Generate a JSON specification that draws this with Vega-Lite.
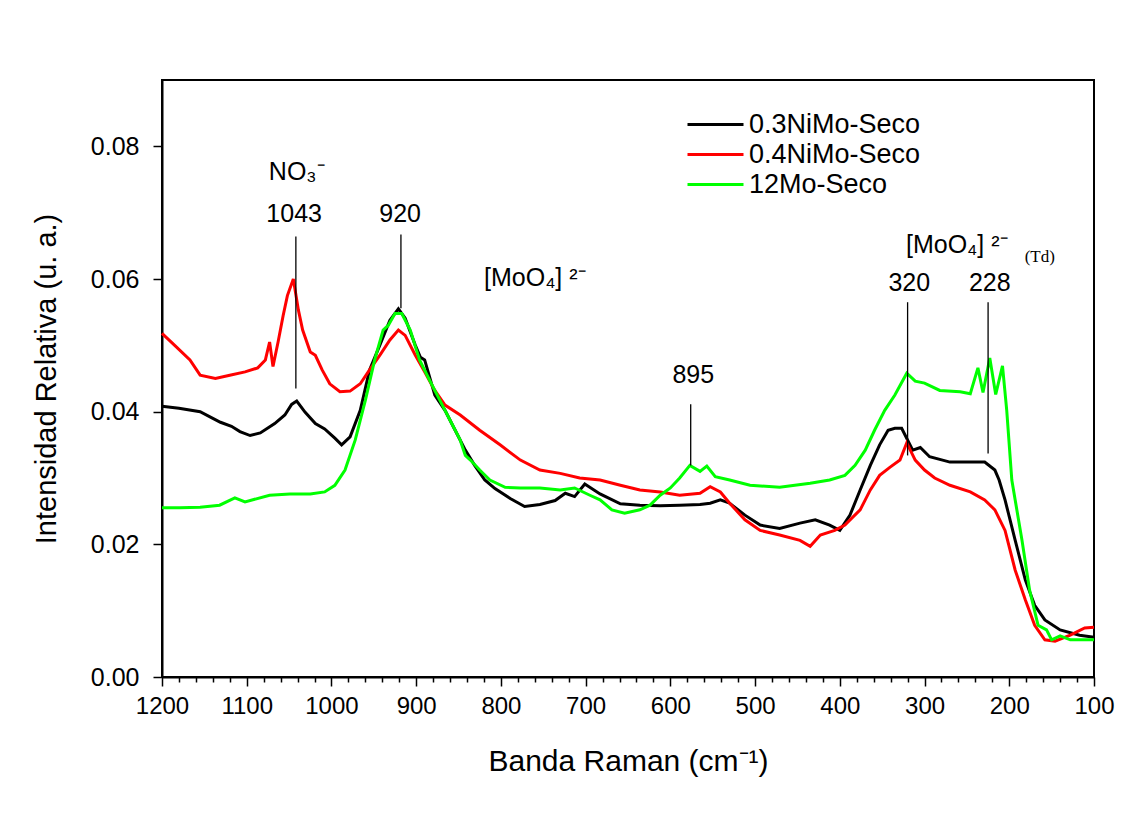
{
  "$schema": "https://vega.github.io/schema/vega-lite/v6.json",
  "width": 932,
  "height": 597,
  "autosize": "none",
  "padding": {"left": 162, "top": 80, "right": 42, "bottom": 137},
  "background": "white",
  "config": {
    "view": {"stroke": "black", "strokeWidth": 2},
    "font": "Liberation Sans"
  },
  "datasets": {
    "spectra": [
      {"sample": "0.3NiMo-Seco", "shift": 1200, "intensity": 0.0408},
      {"sample": "0.3NiMo-Seco", "shift": 1180, "intensity": 0.0405},
      {"sample": "0.3NiMo-Seco", "shift": 1155, "intensity": 0.0400},
      {"sample": "0.3NiMo-Seco", "shift": 1140, "intensity": 0.0390},
      {"sample": "0.3NiMo-Seco", "shift": 1131, "intensity": 0.0384},
      {"sample": "0.3NiMo-Seco", "shift": 1118, "intensity": 0.0378},
      {"sample": "0.3NiMo-Seco", "shift": 1108, "intensity": 0.0370},
      {"sample": "0.3NiMo-Seco", "shift": 1096, "intensity": 0.0364},
      {"sample": "0.3NiMo-Seco", "shift": 1084, "intensity": 0.0368},
      {"sample": "0.3NiMo-Seco", "shift": 1067, "intensity": 0.0382},
      {"sample": "0.3NiMo-Seco", "shift": 1055, "intensity": 0.0395},
      {"sample": "0.3NiMo-Seco", "shift": 1047, "intensity": 0.0411},
      {"sample": "0.3NiMo-Seco", "shift": 1041, "intensity": 0.0416},
      {"sample": "0.3NiMo-Seco", "shift": 1031, "intensity": 0.0399},
      {"sample": "0.3NiMo-Seco", "shift": 1019, "intensity": 0.0382},
      {"sample": "0.3NiMo-Seco", "shift": 1008, "intensity": 0.0374},
      {"sample": "0.3NiMo-Seco", "shift": 996, "intensity": 0.0360},
      {"sample": "0.3NiMo-Seco", "shift": 988, "intensity": 0.0350},
      {"sample": "0.3NiMo-Seco", "shift": 978, "intensity": 0.0362},
      {"sample": "0.3NiMo-Seco", "shift": 966, "intensity": 0.0402},
      {"sample": "0.3NiMo-Seco", "shift": 955, "intensity": 0.0463},
      {"sample": "0.3NiMo-Seco", "shift": 943, "intensity": 0.0500},
      {"sample": "0.3NiMo-Seco", "shift": 931, "intensity": 0.0538},
      {"sample": "0.3NiMo-Seco", "shift": 921, "intensity": 0.0555},
      {"sample": "0.3NiMo-Seco", "shift": 913, "intensity": 0.0541},
      {"sample": "0.3NiMo-Seco", "shift": 901, "intensity": 0.0500},
      {"sample": "0.3NiMo-Seco", "shift": 895, "intensity": 0.0482},
      {"sample": "0.3NiMo-Seco", "shift": 890, "intensity": 0.0478},
      {"sample": "0.3NiMo-Seco", "shift": 878, "intensity": 0.0425},
      {"sample": "0.3NiMo-Seco", "shift": 866, "intensity": 0.0402},
      {"sample": "0.3NiMo-Seco", "shift": 854, "intensity": 0.0372},
      {"sample": "0.3NiMo-Seco", "shift": 842, "intensity": 0.0342},
      {"sample": "0.3NiMo-Seco", "shift": 831, "intensity": 0.0319},
      {"sample": "0.3NiMo-Seco", "shift": 819, "intensity": 0.0297},
      {"sample": "0.3NiMo-Seco", "shift": 807, "intensity": 0.0284},
      {"sample": "0.3NiMo-Seco", "shift": 789, "intensity": 0.0269},
      {"sample": "0.3NiMo-Seco", "shift": 772, "intensity": 0.0257},
      {"sample": "0.3NiMo-Seco", "shift": 754, "intensity": 0.0260},
      {"sample": "0.3NiMo-Seco", "shift": 736, "intensity": 0.0266},
      {"sample": "0.3NiMo-Seco", "shift": 724, "intensity": 0.0277},
      {"sample": "0.3NiMo-Seco", "shift": 713, "intensity": 0.0272},
      {"sample": "0.3NiMo-Seco", "shift": 701, "intensity": 0.0291},
      {"sample": "0.3NiMo-Seco", "shift": 683, "intensity": 0.0276},
      {"sample": "0.3NiMo-Seco", "shift": 659, "intensity": 0.0261},
      {"sample": "0.3NiMo-Seco", "shift": 636, "intensity": 0.0259},
      {"sample": "0.3NiMo-Seco", "shift": 612, "intensity": 0.0258},
      {"sample": "0.3NiMo-Seco", "shift": 589, "intensity": 0.0259},
      {"sample": "0.3NiMo-Seco", "shift": 565, "intensity": 0.0260},
      {"sample": "0.3NiMo-Seco", "shift": 553, "intensity": 0.0262},
      {"sample": "0.3NiMo-Seco", "shift": 541, "intensity": 0.0267},
      {"sample": "0.3NiMo-Seco", "shift": 530, "intensity": 0.0262},
      {"sample": "0.3NiMo-Seco", "shift": 512, "intensity": 0.0244},
      {"sample": "0.3NiMo-Seco", "shift": 494, "intensity": 0.0229},
      {"sample": "0.3NiMo-Seco", "shift": 471, "intensity": 0.0224},
      {"sample": "0.3NiMo-Seco", "shift": 447, "intensity": 0.0232},
      {"sample": "0.3NiMo-Seco", "shift": 429, "intensity": 0.0237},
      {"sample": "0.3NiMo-Seco", "shift": 412, "intensity": 0.0229},
      {"sample": "0.3NiMo-Seco", "shift": 400, "intensity": 0.0221},
      {"sample": "0.3NiMo-Seco", "shift": 388, "intensity": 0.0244},
      {"sample": "0.3NiMo-Seco", "shift": 376, "intensity": 0.0282},
      {"sample": "0.3NiMo-Seco", "shift": 364, "intensity": 0.0319},
      {"sample": "0.3NiMo-Seco", "shift": 353, "intensity": 0.0350},
      {"sample": "0.3NiMo-Seco", "shift": 343, "intensity": 0.0372},
      {"sample": "0.3NiMo-Seco", "shift": 335, "intensity": 0.0375},
      {"sample": "0.3NiMo-Seco", "shift": 327, "intensity": 0.0375},
      {"sample": "0.3NiMo-Seco", "shift": 314, "intensity": 0.0342},
      {"sample": "0.3NiMo-Seco", "shift": 305, "intensity": 0.0346},
      {"sample": "0.3NiMo-Seco", "shift": 294, "intensity": 0.0332},
      {"sample": "0.3NiMo-Seco", "shift": 270, "intensity": 0.0324},
      {"sample": "0.3NiMo-Seco", "shift": 246, "intensity": 0.0324},
      {"sample": "0.3NiMo-Seco", "shift": 229, "intensity": 0.0324},
      {"sample": "0.3NiMo-Seco", "shift": 217, "intensity": 0.0312},
      {"sample": "0.3NiMo-Seco", "shift": 212, "intensity": 0.0297},
      {"sample": "0.3NiMo-Seco", "shift": 205, "intensity": 0.0267},
      {"sample": "0.3NiMo-Seco", "shift": 193, "intensity": 0.0206},
      {"sample": "0.3NiMo-Seco", "shift": 181, "intensity": 0.0146},
      {"sample": "0.3NiMo-Seco", "shift": 170, "intensity": 0.0108},
      {"sample": "0.3NiMo-Seco", "shift": 158, "intensity": 0.0086},
      {"sample": "0.3NiMo-Seco", "shift": 140, "intensity": 0.0071},
      {"sample": "0.3NiMo-Seco", "shift": 117, "intensity": 0.0063},
      {"sample": "0.3NiMo-Seco", "shift": 100, "intensity": 0.0060},

      {"sample": "0.4NiMo-Seco", "shift": 1200, "intensity": 0.0518},
      {"sample": "0.4NiMo-Seco", "shift": 1185, "intensity": 0.0500},
      {"sample": "0.4NiMo-Seco", "shift": 1167, "intensity": 0.0478},
      {"sample": "0.4NiMo-Seco", "shift": 1155, "intensity": 0.0455},
      {"sample": "0.4NiMo-Seco", "shift": 1137, "intensity": 0.0450},
      {"sample": "0.4NiMo-Seco", "shift": 1120, "intensity": 0.0455},
      {"sample": "0.4NiMo-Seco", "shift": 1102, "intensity": 0.0460},
      {"sample": "0.4NiMo-Seco", "shift": 1087, "intensity": 0.0466},
      {"sample": "0.4NiMo-Seco", "shift": 1078, "intensity": 0.0478},
      {"sample": "0.4NiMo-Seco", "shift": 1073, "intensity": 0.0505},
      {"sample": "0.4NiMo-Seco", "shift": 1069, "intensity": 0.0468},
      {"sample": "0.4NiMo-Seco", "shift": 1063, "intensity": 0.0505},
      {"sample": "0.4NiMo-Seco", "shift": 1057, "intensity": 0.0545},
      {"sample": "0.4NiMo-Seco", "shift": 1052, "intensity": 0.0575},
      {"sample": "0.4NiMo-Seco", "shift": 1045, "intensity": 0.0600},
      {"sample": "0.4NiMo-Seco", "shift": 1039, "intensity": 0.0553},
      {"sample": "0.4NiMo-Seco", "shift": 1034, "intensity": 0.0523},
      {"sample": "0.4NiMo-Seco", "shift": 1025, "intensity": 0.0490},
      {"sample": "0.4NiMo-Seco", "shift": 1019, "intensity": 0.0485},
      {"sample": "0.4NiMo-Seco", "shift": 1011, "intensity": 0.0463},
      {"sample": "0.4NiMo-Seco", "shift": 1002, "intensity": 0.0442},
      {"sample": "0.4NiMo-Seco", "shift": 990, "intensity": 0.0430},
      {"sample": "0.4NiMo-Seco", "shift": 978, "intensity": 0.0431},
      {"sample": "0.4NiMo-Seco", "shift": 966, "intensity": 0.0442},
      {"sample": "0.4NiMo-Seco", "shift": 955, "intensity": 0.0463},
      {"sample": "0.4NiMo-Seco", "shift": 943, "intensity": 0.0485},
      {"sample": "0.4NiMo-Seco", "shift": 931, "intensity": 0.0508},
      {"sample": "0.4NiMo-Seco", "shift": 921, "intensity": 0.0523},
      {"sample": "0.4NiMo-Seco", "shift": 913, "intensity": 0.0515},
      {"sample": "0.4NiMo-Seco", "shift": 901, "intensity": 0.0485},
      {"sample": "0.4NiMo-Seco", "shift": 890, "intensity": 0.0460},
      {"sample": "0.4NiMo-Seco", "shift": 878, "intensity": 0.0432},
      {"sample": "0.4NiMo-Seco", "shift": 866, "intensity": 0.0410},
      {"sample": "0.4NiMo-Seco", "shift": 848, "intensity": 0.0395},
      {"sample": "0.4NiMo-Seco", "shift": 825, "intensity": 0.0372},
      {"sample": "0.4NiMo-Seco", "shift": 801, "intensity": 0.0350},
      {"sample": "0.4NiMo-Seco", "shift": 777, "intensity": 0.0327},
      {"sample": "0.4NiMo-Seco", "shift": 754, "intensity": 0.0312},
      {"sample": "0.4NiMo-Seco", "shift": 730, "intensity": 0.0307},
      {"sample": "0.4NiMo-Seco", "shift": 707, "intensity": 0.0300},
      {"sample": "0.4NiMo-Seco", "shift": 683, "intensity": 0.0297},
      {"sample": "0.4NiMo-Seco", "shift": 659, "intensity": 0.0289},
      {"sample": "0.4NiMo-Seco", "shift": 636, "intensity": 0.0282},
      {"sample": "0.4NiMo-Seco", "shift": 612, "intensity": 0.0279},
      {"sample": "0.4NiMo-Seco", "shift": 589, "intensity": 0.0274},
      {"sample": "0.4NiMo-Seco", "shift": 565, "intensity": 0.0277},
      {"sample": "0.4NiMo-Seco", "shift": 553, "intensity": 0.0287},
      {"sample": "0.4NiMo-Seco", "shift": 541, "intensity": 0.0279},
      {"sample": "0.4NiMo-Seco", "shift": 530, "intensity": 0.0262},
      {"sample": "0.4NiMo-Seco", "shift": 512, "intensity": 0.0237},
      {"sample": "0.4NiMo-Seco", "shift": 494, "intensity": 0.0221},
      {"sample": "0.4NiMo-Seco", "shift": 471, "intensity": 0.0214},
      {"sample": "0.4NiMo-Seco", "shift": 447, "intensity": 0.0206},
      {"sample": "0.4NiMo-Seco", "shift": 435, "intensity": 0.0197},
      {"sample": "0.4NiMo-Seco", "shift": 423, "intensity": 0.0214},
      {"sample": "0.4NiMo-Seco", "shift": 406, "intensity": 0.0221},
      {"sample": "0.4NiMo-Seco", "shift": 394, "intensity": 0.0229},
      {"sample": "0.4NiMo-Seco", "shift": 376, "intensity": 0.0252},
      {"sample": "0.4NiMo-Seco", "shift": 364, "intensity": 0.0282},
      {"sample": "0.4NiMo-Seco", "shift": 353, "intensity": 0.0304},
      {"sample": "0.4NiMo-Seco", "shift": 341, "intensity": 0.0316},
      {"sample": "0.4NiMo-Seco", "shift": 329, "intensity": 0.0327},
      {"sample": "0.4NiMo-Seco", "shift": 321, "intensity": 0.0353},
      {"sample": "0.4NiMo-Seco", "shift": 311, "intensity": 0.0327},
      {"sample": "0.4NiMo-Seco", "shift": 300, "intensity": 0.0312},
      {"sample": "0.4NiMo-Seco", "shift": 288, "intensity": 0.0300},
      {"sample": "0.4NiMo-Seco", "shift": 270, "intensity": 0.0289},
      {"sample": "0.4NiMo-Seco", "shift": 246, "intensity": 0.0279},
      {"sample": "0.4NiMo-Seco", "shift": 229, "intensity": 0.0267},
      {"sample": "0.4NiMo-Seco", "shift": 217, "intensity": 0.0252},
      {"sample": "0.4NiMo-Seco", "shift": 205, "intensity": 0.0221},
      {"sample": "0.4NiMo-Seco", "shift": 193, "intensity": 0.0161},
      {"sample": "0.4NiMo-Seco", "shift": 181, "intensity": 0.0116},
      {"sample": "0.4NiMo-Seco", "shift": 170, "intensity": 0.0078},
      {"sample": "0.4NiMo-Seco", "shift": 158, "intensity": 0.0056},
      {"sample": "0.4NiMo-Seco", "shift": 146, "intensity": 0.0054},
      {"sample": "0.4NiMo-Seco", "shift": 128, "intensity": 0.0063},
      {"sample": "0.4NiMo-Seco", "shift": 111, "intensity": 0.0074},
      {"sample": "0.4NiMo-Seco", "shift": 100, "intensity": 0.0075},

      {"sample": "12Mo-Seco", "shift": 1200, "intensity": 0.0255},
      {"sample": "12Mo-Seco", "shift": 1179, "intensity": 0.0255},
      {"sample": "12Mo-Seco", "shift": 1155, "intensity": 0.0256},
      {"sample": "12Mo-Seco", "shift": 1132, "intensity": 0.0259},
      {"sample": "12Mo-Seco", "shift": 1114, "intensity": 0.0270},
      {"sample": "12Mo-Seco", "shift": 1102, "intensity": 0.0264},
      {"sample": "12Mo-Seco", "shift": 1073, "intensity": 0.0274},
      {"sample": "12Mo-Seco", "shift": 1049, "intensity": 0.0276},
      {"sample": "12Mo-Seco", "shift": 1025, "intensity": 0.0276},
      {"sample": "12Mo-Seco", "shift": 1008, "intensity": 0.0279},
      {"sample": "12Mo-Seco", "shift": 996, "intensity": 0.0289},
      {"sample": "12Mo-Seco", "shift": 984, "intensity": 0.0312},
      {"sample": "12Mo-Seco", "shift": 972, "intensity": 0.0357},
      {"sample": "12Mo-Seco", "shift": 960, "intensity": 0.0417},
      {"sample": "12Mo-Seco", "shift": 949, "intensity": 0.0478},
      {"sample": "12Mo-Seco", "shift": 939, "intensity": 0.0523},
      {"sample": "12Mo-Seco", "shift": 933, "intensity": 0.0530},
      {"sample": "12Mo-Seco", "shift": 925, "intensity": 0.0548},
      {"sample": "12Mo-Seco", "shift": 917, "intensity": 0.0548},
      {"sample": "12Mo-Seco", "shift": 907, "intensity": 0.0523},
      {"sample": "12Mo-Seco", "shift": 896, "intensity": 0.0478},
      {"sample": "12Mo-Seco", "shift": 884, "intensity": 0.0447},
      {"sample": "12Mo-Seco", "shift": 872, "intensity": 0.0417},
      {"sample": "12Mo-Seco", "shift": 860, "intensity": 0.0387},
      {"sample": "12Mo-Seco", "shift": 848, "intensity": 0.0357},
      {"sample": "12Mo-Seco", "shift": 842, "intensity": 0.0334},
      {"sample": "12Mo-Seco", "shift": 836, "intensity": 0.0327},
      {"sample": "12Mo-Seco", "shift": 825, "intensity": 0.0312},
      {"sample": "12Mo-Seco", "shift": 813, "intensity": 0.0297},
      {"sample": "12Mo-Seco", "shift": 795, "intensity": 0.0286},
      {"sample": "12Mo-Seco", "shift": 777, "intensity": 0.0285},
      {"sample": "12Mo-Seco", "shift": 754, "intensity": 0.0285},
      {"sample": "12Mo-Seco", "shift": 730, "intensity": 0.0282},
      {"sample": "12Mo-Seco", "shift": 713, "intensity": 0.0285},
      {"sample": "12Mo-Seco", "shift": 695, "intensity": 0.0274},
      {"sample": "12Mo-Seco", "shift": 683, "intensity": 0.0267},
      {"sample": "12Mo-Seco", "shift": 669, "intensity": 0.0252},
      {"sample": "12Mo-Seco", "shift": 654, "intensity": 0.0247},
      {"sample": "12Mo-Seco", "shift": 636, "intensity": 0.0252},
      {"sample": "12Mo-Seco", "shift": 624, "intensity": 0.0259},
      {"sample": "12Mo-Seco", "shift": 612, "intensity": 0.0274},
      {"sample": "12Mo-Seco", "shift": 600, "intensity": 0.0285},
      {"sample": "12Mo-Seco", "shift": 589, "intensity": 0.0300},
      {"sample": "12Mo-Seco", "shift": 577, "intensity": 0.0319},
      {"sample": "12Mo-Seco", "shift": 565, "intensity": 0.0310},
      {"sample": "12Mo-Seco", "shift": 557, "intensity": 0.0318},
      {"sample": "12Mo-Seco", "shift": 547, "intensity": 0.0302},
      {"sample": "12Mo-Seco", "shift": 530, "intensity": 0.0297},
      {"sample": "12Mo-Seco", "shift": 506, "intensity": 0.0289},
      {"sample": "12Mo-Seco", "shift": 471, "intensity": 0.0286},
      {"sample": "12Mo-Seco", "shift": 435, "intensity": 0.0292},
      {"sample": "12Mo-Seco", "shift": 412, "intensity": 0.0297},
      {"sample": "12Mo-Seco", "shift": 394, "intensity": 0.0304},
      {"sample": "12Mo-Seco", "shift": 382, "intensity": 0.0319},
      {"sample": "12Mo-Seco", "shift": 370, "intensity": 0.0342},
      {"sample": "12Mo-Seco", "shift": 359, "intensity": 0.0372},
      {"sample": "12Mo-Seco", "shift": 347, "intensity": 0.0402},
      {"sample": "12Mo-Seco", "shift": 335, "intensity": 0.0425},
      {"sample": "12Mo-Seco", "shift": 321, "intensity": 0.0458},
      {"sample": "12Mo-Seco", "shift": 311, "intensity": 0.0446},
      {"sample": "12Mo-Seco", "shift": 300, "intensity": 0.0443},
      {"sample": "12Mo-Seco", "shift": 282, "intensity": 0.0432},
      {"sample": "12Mo-Seco", "shift": 258, "intensity": 0.0430},
      {"sample": "12Mo-Seco", "shift": 246, "intensity": 0.0427},
      {"sample": "12Mo-Seco", "shift": 237, "intensity": 0.0466},
      {"sample": "12Mo-Seco", "shift": 231, "intensity": 0.0429},
      {"sample": "12Mo-Seco", "shift": 223, "intensity": 0.0481},
      {"sample": "12Mo-Seco", "shift": 216, "intensity": 0.0426},
      {"sample": "12Mo-Seco", "shift": 208, "intensity": 0.0469},
      {"sample": "12Mo-Seco", "shift": 203, "intensity": 0.0402},
      {"sample": "12Mo-Seco", "shift": 197, "intensity": 0.0297},
      {"sample": "12Mo-Seco", "shift": 185, "intensity": 0.0206},
      {"sample": "12Mo-Seco", "shift": 176, "intensity": 0.0131},
      {"sample": "12Mo-Seco", "shift": 166, "intensity": 0.0078},
      {"sample": "12Mo-Seco", "shift": 156, "intensity": 0.0071},
      {"sample": "12Mo-Seco", "shift": 150, "intensity": 0.0056},
      {"sample": "12Mo-Seco", "shift": 140, "intensity": 0.0062},
      {"sample": "12Mo-Seco", "shift": 128, "intensity": 0.0056},
      {"sample": "12Mo-Seco", "shift": 100, "intensity": 0.0056}
    ],
    "leaders": [
      {"shift": 1042, "top": 0.0664, "bottom": 0.0435},
      {"shift": 918, "top": 0.0667, "bottom": 0.0556},
      {"shift": 576, "top": 0.0411, "bottom": 0.0319},
      {"shift": 320, "top": 0.0565, "bottom": 0.0334},
      {"shift": 225, "top": 0.0565, "bottom": 0.0337}
    ],
    "labels": [
      {"shift": 1041, "intensity": 0.0761, "text": "NO₃⁻"},
      {"shift": 1044, "intensity": 0.0698, "text": "1043"},
      {"shift": 919, "intensity": 0.0698, "text": "920"},
      {"shift": 760, "intensity": 0.0601, "text": "[MoO₄] ²⁻"},
      {"shift": 573, "intensity": 0.0455, "text": "895"},
      {"shift": 262, "intensity": 0.0651, "text": "[MoO₄] ²⁻"},
      {"shift": 318, "intensity": 0.0594, "text": "320"},
      {"shift": 223, "intensity": 0.0594, "text": "228"}
    ],
    "small": [
      {"shift": 164, "intensity": 0.0633, "text": "(Td)"}
    ]
  },
  "layer": [
    {
      "data": {"name": "spectra"},
      "mark": {"type": "line", "strokeWidth": 3},
      "encoding": {
        "x": {
          "field": "shift", "type": "quantitative",
          "scale": {"domain": [100, 1200], "reverse": true, "nice": false, "zero": false},
          "axis": {
            "orient": "bottom",
            "values": [100, 120, 140, 160, 180, 200, 220, 240, 260, 280, 300, 320, 340, 360, 380, 400, 420, 440, 460, 480, 500, 520, 540, 560, 580, 600, 620, 640, 660, 680, 700, 720, 740, 760, 780, 800, 820, 840, 860, 880, 900, 920, 940, 960, 980, 1000, 1020, 1040, 1060, 1080, 1100, 1120, 1140, 1160, 1180, 1200],
            "tickCount": 100,
            "labelExpr": "datum.value % 100 == 0 ? format(datum.value, 'd') : ''",
            "grid": false,
            "domainColor": "black", "domainWidth": 2,
            "tickColor": "black", "tickWidth": 1.5,
            "tickSize": {"expr": "datum.value % 100 == 0 ? 9 : 5"},
            "labelFontSize": 24, "labelColor": "black", "labelPadding": 8,
            "labelFlush": false, "labelOverlap": false,
            "title": "Banda Raman (cm⁻¹)", "titleFontSize": 30,
            "titleFontWeight": "normal", "titleColor": "black", "titlePadding": 28
          }
        },
        "y": {
          "field": "intensity", "type": "quantitative",
          "scale": {"domain": [0, 0.09], "nice": false},
          "axis": {
            "values": [0, 0.02, 0.04, 0.06, 0.08],
            "format": ".2f", "grid": false,
            "domainColor": "black", "domainWidth": 2,
            "tickColor": "black", "tickWidth": 1.5, "tickSize": 9,
            "labelFontSize": 25, "labelColor": "black", "labelPadding": 14,
            "labelFlush": false, "labelOverlap": false,
            "title": "Intensidad Relativa (u. a.)", "titleFontSize": 29,
            "titleFontWeight": "normal", "titleColor": "black", "titlePadding": 29
          }
        },
        "color": {
          "field": "sample", "type": "nominal",
          "scale": {"domain": ["0.3NiMo-Seco", "0.4NiMo-Seco", "12Mo-Seco"], "range": ["#000000", "#ff0000", "#00ff00"]},
          "legend": {
            "orient": "none", "legendX": 540, "legendY": 31, "title": null, "padding": 0,
            "symbolType": "M-5.6,0H5.6", "symbolSize": 100, "symbolStrokeWidth": 3,
            "labelFontSize": 27, "labelColor": "black", "labelOffset": 20, "rowPadding": 2,
            "labelLimit": 400
          }
        }
      }
    },
    {
      "data": {"name": "leaders"},
      "mark": {"type": "rule", "color": "black", "strokeWidth": 1.3},
      "encoding": {
        "x": {"field": "shift", "type": "quantitative"},
        "y": {"field": "top", "type": "quantitative"},
        "y2": {"field": "bottom"}
      }
    },
    {
      "data": {"name": "labels"},
      "mark": {"type": "text", "fontSize": 25, "color": "black", "align": "center", "baseline": "middle"},
      "encoding": {
        "x": {"field": "shift", "type": "quantitative"},
        "y": {"field": "intensity", "type": "quantitative"},
        "text": {"field": "text"}
      }
    },
    {
      "data": {"name": "small"},
      "mark": {"type": "text", "font": "Liberation Serif", "fontSize": 17, "color": "black", "align": "center", "baseline": "middle"},
      "encoding": {
        "x": {"field": "shift", "type": "quantitative"},
        "y": {"field": "intensity", "type": "quantitative"},
        "text": {"field": "text"}
      }
    }
  ]
}
